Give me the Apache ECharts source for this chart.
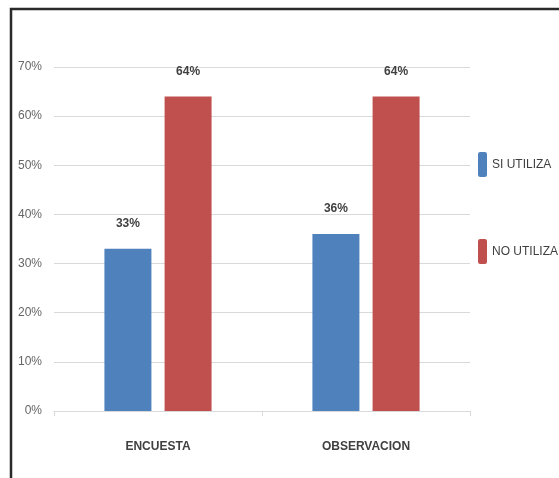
<!DOCTYPE html>
<html>
<head>
<meta charset="utf-8">
<script src="https://cdn.jsdelivr.net/npm/echarts@6/dist/echarts.min.js"></script>
<style>
html,body{margin:0;padding:0;background:#fff;}
#c{width:559px;height:478px;}
</style>
</head>
<body>
<div id="c"></div>
<script>
var categories = ['ENCUESTA', 'OBSERVACION'];
var seriesNames = ['SI UTILIZA', 'NO UTILIZA'];
var siUtiliza = [33, 36];
var noUtiliza = [64, 64];
var yTicks = [0, 10, 20, 30, 40, 50, 60, 70];

var FONT = "'Liberation Sans Narrow', 'Liberation Sans', sans-serif";
var chart = echarts.init(document.getElementById('c'));
var labelStyle = {
  show: true, position: 'top', distance: 19,
  formatter: '{c}%', color: '#404040', fontWeight: 'bold',
  fontSize: 12, fontFamily: FONT
};
chart.setOption({
  backgroundColor: '#ffffff',
  animation: false,
  grid: { left: 54, right: 89, top: 67, bottom: 67 },
  legend: {
    orient: 'vertical', left: 473, top: 147,
    itemWidth: 9, itemHeight: 25, itemGap: 62,
    icon: 'roundRect',
    textStyle: { color: '#404040', fontSize: 12, fontFamily: FONT, padding: [0, 0, 0, 0] },
    data: seriesNames
  },
  xAxis: {
    type: 'category', data: categories,
    axisLine: { lineStyle: { color: '#d9d9d9', width: 1 } },
    axisTick: { show: true, length: 5, lineStyle: { color: '#d9d9d9' } },
    axisLabel: { color: '#404040', fontWeight: 'bold', fontSize: 12, fontFamily: FONT, margin: 30 }
  },
  yAxis: {
    type: 'value', min: yTicks[0], max: yTicks[yTicks.length - 1], interval: 10,
    axisLine: { show: false }, axisTick: { show: false },
    splitLine: { lineStyle: { color: '#d9d9d9', width: 1 } },
    axisLabel: { color: '#666666', fontSize: 12, fontFamily: FONT, margin: 12, formatter: '{value}%' }
  },
  series: [
    { name: seriesNames[0], type: 'bar', data: siUtiliza, barWidth: 47, barGap: '28%',
      itemStyle: { color: '#4f81bd' }, label: labelStyle },
    { name: seriesNames[1], type: 'bar', data: noUtiliza, barWidth: 47,
      itemStyle: { color: '#c0504d' }, label: labelStyle }
  ],
  graphic: [
    { type: 'polyline', silent: true,
      shape: { points: [[11, 478], [11, 9], [559, 9]] },
      style: { stroke: '#2a2a2a', lineWidth: 2.5, fill: null } }
  ]
});
</script>
</body>
</html>
